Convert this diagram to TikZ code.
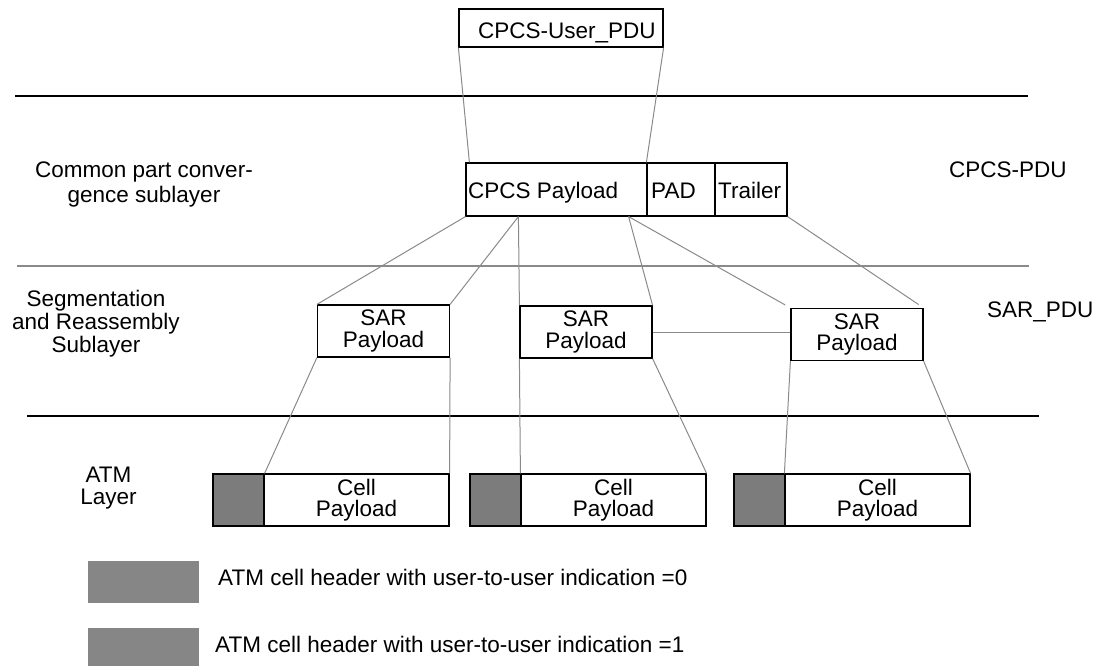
\documentclass[tikz,border=0pt]{standalone}
\usepackage{fontspec}
\setmainfont{Liberation Sans}
\usetikzlibrary{calc}

\definecolor{linkgray}{RGB}{138,138,138}
\definecolor{hdrgray}{RGB}{124,124,124}
\definecolor{keygray}{RGB}{134,134,134}

\newcommand\lblfont{\fontsize{22.5}{21.5}\selectfont}

\tikzset{
  frame/.style={draw=black, line width=1.2pt, inner sep=0pt, fill=white},
  hdr/.style={frame, fill=hdrgray, minimum width=51pt, minimum height=52pt},
  cellpay/.style={frame, minimum width=185pt, minimum height=52pt, align=center, font=\lblfont},
  sarbox/.style={frame, minimum width=132pt, minimum height=52pt, align=center, font=\lblfont},
  txt/.style={inner sep=0pt, font=\lblfont},
  link/.style={draw=linkgray, line width=1pt},
  rule/.style={draw=black, line width=1.2pt},
  softrule/.style={draw=linkgray, line width=1.2pt},
  keybox/.style={fill=keygray, draw=none}
}

\begin{document}
\begin{tikzpicture}[x=1pt, y=-1pt]
  \useasboundingbox (0,0) rectangle (1103,666);

  % layer separators
  \coordinate (r1a) at (15,96);   \coordinate (r1b) at (1028,96);
  \coordinate (r2a) at (17,266);  \coordinate (r2b) at (1029,266);
  \coordinate (r3a) at (27,416);  \coordinate (r3b) at (1039,416);
  \draw[rule] (r1a) -- (r1b);
  \draw[softrule] (r2a) -- (r2b);
  \draw[rule] (r3a) -- (r3b);

  % user PDU
  \node[frame, minimum width=204pt, minimum height=38pt] (user) at (561,28) {};
  \node[txt, anchor=base west] (usertxt) at (478,39) {CPCS-User\_PDU};

  % CPCS-PDU: payload, padding and trailer
  \node[frame, minimum width=181pt, minimum height=53pt] (pay) at (556.5,189.5) {};
  \node[frame, minimum width=68pt, minimum height=53pt] (pad) at (681,189.5) {};
  \node[frame, minimum width=72pt, minimum height=53pt] (trl) at (751,189.5) {};
  \node[txt, anchor=base west] (paytxt) at (468,198) {CPCS Payload};
  \node[txt, anchor=base west] (padtxt) at (651,198) {PAD};
  \node[txt, anchor=base west] (trltxt) at (718,198) {Trailer};

  % SAR PDUs
  \node[sarbox] (sar1) at (383.5,331) {SAR\\Payload};
  \node[sarbox] (sar2) at (586,332) {SAR\\Payload};
  \node[sarbox] (sar3) at (857,334.5) {SAR\\Payload};

  % ATM cells
  \node[hdr] (h1) at (238.5,500) {};
  \node[cellpay] (p1) at (356.5,500) {Cell\\Payload};
  \node[hdr] (h2) at (495.5,500) {};
  \node[cellpay] (p2) at (613.5,500) {Cell\\Payload};
  \node[hdr] (h3) at (759.5,500) {};
  \node[cellpay] (p3) at (877.5,500) {Cell\\Payload};

  % layer names
  \node[txt, align=center, font=\fontsize{22.5}{25}\selectfont] (cpcsname) at (144,184) {Common part conver-\\gence sublayer};
  \node[txt, align=center, font=\fontsize{22.5}{23}\selectfont] (sarname) at (96,324) {Segmentation\\and Reassembly\\Sublayer};
  \node[txt, align=center] (atmname) at (108.5,488) {ATM\\Layer};
  \node[txt, anchor=base west] (cpcspdu) at (949,178) {CPCS-PDU};
  \node[txt, anchor=base west] (sarpdu) at (987,317) {SAR\_PDU};

  % mapping lines
  \coordinate (payL) at ($(pay.north west)+(4,0)$);
  \coordinate (payA) at ($(pay.south west)+(53,0)$);
  \coordinate (payB) at ($(pay.south east)+(-19,0)$);
  \draw[link] (user.south west) -- (payL);
  \draw[link] (user.south east) -- (pad.north west);
  \draw[link] (pay.south west) -- (sar1.north west);
  \draw[link] (payA) -- (sar1.north east);
  \draw[link] (payA) -- (sar2.north west);
  \draw[link] (payB) -- (sar2.north east);
  \draw[link, shorten >=6pt] (payB) -- (sar3.north west);
  \draw[link, shorten >=6pt] (trl.south east) -- (sar3.north east);
  \draw[link] (sar2.east) -- (sar2.east -| sar3.west);
  \draw[link] (sar1.south west) -- (h1.north east);
  \draw[link] (sar1.south east) -- (p1.north east);
  \draw[link] (sar2.south west) -- (p2.north west);
  \draw[link] (sar2.south east) -- (p2.north east);
  \draw[link] (sar3.south west) -- (p3.north west);
  \draw[link] (sar3.south east) -- (p3.north east);

  % key
  \fill[keybox] (87.5,561) rectangle (198.5,603);
  \fill[keybox] (87.5,628) rectangle (198.5,668);
  \node[txt, anchor=base west] (key0) at (218,585) {ATM cell header with user-to-user indication =0};
  \node[txt, anchor=base west] (key1) at (215,652) {ATM cell header with user-to-user indication =1};
\end{tikzpicture}
\end{document}
